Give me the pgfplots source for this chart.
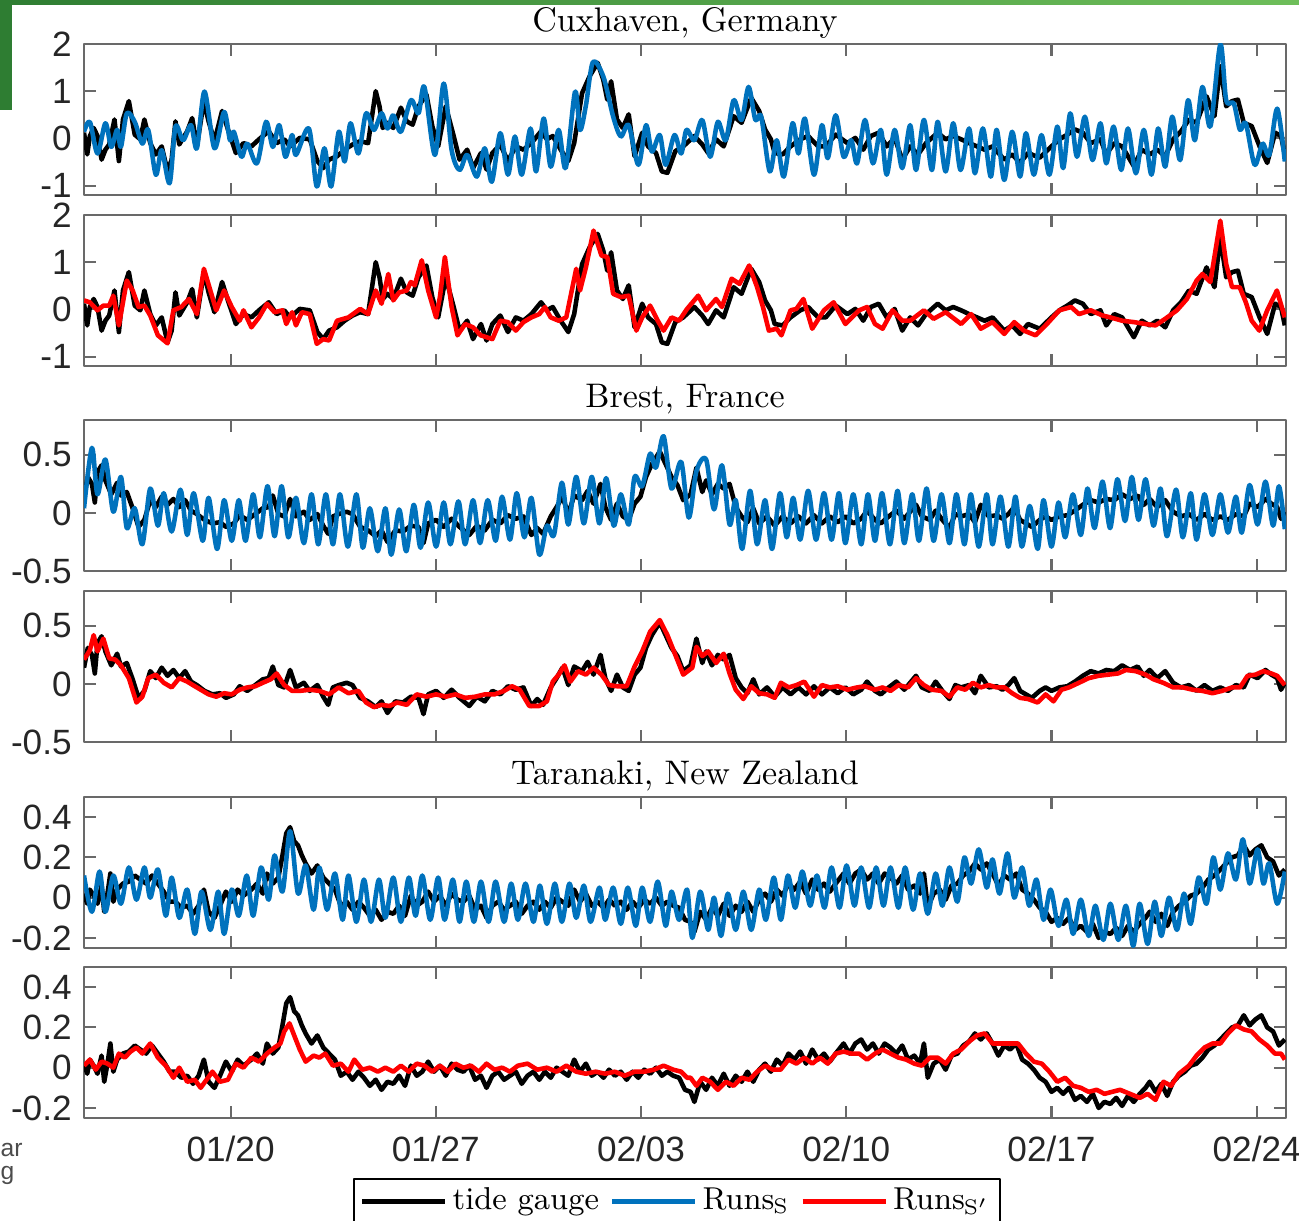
\documentclass[border=0pt]{standalone}
\usepackage{fontspec}
\usepackage{pgfplots}
\usepackage{pgfplotstable}
\pgfplotsset{compat=1.18}
\newfontfamily\ticksf{Liberation Sans}
\newcommand{\titlefont}{\fontsize{9.7}{11}\selectfont}
\newcommand{\legfont}{\fontsize{9}{10}\selectfont}
\definecolor{mblue}{RGB}{0,114,189}
\definecolor{mred}{RGB}{255,0,0}
\definecolor{axgray}{RGB}{105,105,105}
\definecolor{dgreen}{RGB}{46,125,50}
\definecolor{lgreen}{RGB}{110,190,90}

% ---------------- Cuxhaven ----------------
\pgfplotstableread{
x y
0.00 0.12
0.11 -0.34
0.20 0.05
0.33 0.22
0.46 0.05
0.60 -0.45
0.73 -0.24
0.86 -0.13
1.04 0.40
1.19 -0.48
1.33 0.40
1.53 0.79
1.73 0.08
1.92 -0.02
2.06 0.40
2.26 -0.10
2.45 -0.34
2.65 -0.17
2.85 -0.70
2.99 -0.45
3.12 0.36
3.25 -0.13
3.52 0.15
3.69 0.43
3.85 -0.17
4.09 0.79
4.25 0.36
4.45 -0.06
4.71 0.58
4.91 0.19
5.18 -0.31
5.44 -0.10
5.71 -0.17
5.97 -0.02
6.30 0.15
6.57 -0.10
6.83 -0.02
7.03 -0.17
7.36 0.01
7.70 -0.02
7.96 -0.48
8.16 -0.63
8.36 -0.45
8.63 -0.38
8.89 -0.24
9.16 -0.13
9.42 -0.06
9.69 -0.10
9.95 1.00
10.08 0.68
10.19 0.22
10.35 0.33
10.55 0.22
10.81 0.65
11.01 0.36
11.21 0.29
11.41 0.68
11.68 0.93
11.88 0.26
12.08 -0.17
12.34 0.68
12.61 0.05
12.81 -0.45
13.07 -0.24
13.27 -0.63
13.54 -0.31
13.73 -0.66
13.93 -0.31
14.20 -0.13
14.46 -0.48
14.73 -0.17
14.99 -0.24
15.26 -0.10
15.59 0.15
15.79 -0.02
15.99 0.05
16.26 -0.24
16.52 -0.48
16.72 -0.10
16.99 0.96
17.25 1.32
17.52 1.60
17.71 1.25
17.85 0.82
17.98 1.21
18.18 0.40
18.38 0.22
18.58 0.51
18.78 -0.38
19.04 0.12
19.24 -0.17
19.51 -0.31
19.71 -0.70
19.90 -0.73
20.17 -0.27
20.44 -0.17
20.82 0.05
21.09 -0.13
21.29 -0.31
21.56 -0.02
21.82 -0.17
22.16 0.47
22.43 0.33
22.76 0.86
23.03 0.58
23.23 0.19
23.43 -0.02
23.56 -0.31
23.83 -0.34
24.10 -0.17
24.43 -0.02
24.70 0.05
25.04 -0.17
25.30 -0.17
25.64 0.08
26.04 -0.10
26.31 0.01
26.58 -0.24
26.84 0.05
27.11 0.12
27.38 -0.17
27.65 0.01
27.91 -0.45
28.18 -0.17
28.45 -0.34
28.72 -0.10
29.12 0.12
29.39 -0.02
29.65 0.05
29.92 -0.02
30.19 -0.10
30.46 -0.17
30.72 -0.24
30.99 -0.17
31.39 -0.45
31.66 -0.34
31.93 -0.52
32.20 -0.31
32.60 -0.41
33.00 -0.17
33.27 -0.02
33.54 0.08
33.80 0.19
34.07 0.12
34.34 -0.10
34.67 -0.02
34.87 -0.34
35.14 -0.10
35.41 -0.17
35.81 -0.59
36.08 -0.24
36.35 -0.34
36.61 -0.24
36.88 -0.38
37.15 -0.02
37.42 0.15
37.69 0.40
37.95 0.33
38.29 0.89
38.56 0.47
38.76 1.53
38.96 0.68
39.16 0.79
39.36 0.82
39.56 0.33
39.83 0.26
40.10 -0.17
40.36 -0.52
40.63 0.12
40.83 0.05
40.96 -0.34
}\cuxK

\pgfplotstableread{
x y
0.00 0.14
0.20 0.35
0.46 -0.32
0.73 0.32
0.93 -0.18
1.13 0.18
1.26 -0.18
1.46 0.53
1.73 0.35
1.99 -0.11
2.19 0.18
2.45 -0.77
2.65 -0.25
2.92 -0.95
3.12 0.25
3.38 -0.04
3.65 0.28
3.85 -0.21
4.11 0.99
4.45 -0.21
4.78 0.56
4.98 -0.04
5.11 0.14
5.37 -0.39
5.57 -0.11
5.90 -0.53
6.21 0.35
6.44 -0.18
6.66 0.28
6.87 -0.39
7.10 0.07
7.23 -0.35
7.67 0.21
7.94 -1.02
8.20 -0.21
8.43 -1.02
8.69 0.14
8.89 -0.49
9.09 0.32
9.36 -0.32
9.62 0.53
9.89 0.18
10.15 0.53
10.35 0.21
10.55 0.49
10.81 0.14
11.15 0.81
11.41 0.53
11.61 1.09
11.97 -0.35
12.27 1.16
12.54 -0.25
12.81 -0.67
13.07 -0.35
13.40 -0.81
13.67 -0.21
13.91 -0.92
14.20 0.11
14.46 -0.77
14.70 0.04
14.93 -0.77
15.23 0.21
15.42 -0.70
15.68 0.42
15.92 -0.60
16.19 0.18
16.43 -0.63
16.75 0.99
16.92 0.18
17.12 0.70
17.36 1.62
17.72 1.30
18.05 0.46
18.31 0.04
18.58 0.28
18.91 -0.56
19.17 0.28
19.37 -0.28
19.64 0.07
19.84 -0.56
20.14 0.07
20.37 -0.32
20.55 0.18
20.82 -0.04
21.09 0.39
21.36 -0.39
21.62 0.35
21.89 -0.04
22.16 0.81
22.43 0.39
22.67 1.09
22.90 0.39
23.10 0.46
23.39 -0.70
23.63 -0.04
23.87 -0.81
24.17 0.32
24.37 -0.32
24.59 0.42
24.90 -0.77
25.17 0.28
25.37 -0.42
25.64 0.49
25.91 -0.39
26.17 -0.04
26.37 -0.53
26.64 0.39
26.91 -0.53
27.18 0.18
27.38 -0.77
27.65 0.18
27.91 -0.63
28.18 0.28
28.38 -0.67
28.65 0.39
28.92 -0.67
29.12 0.35
29.39 -0.70
29.65 0.32
29.90 -0.67
30.19 0.21
30.39 -0.74
30.66 0.21
30.93 -0.81
31.13 0.18
31.39 -0.88
31.66 0.14
31.93 -0.81
32.13 0.11
32.40 -0.77
32.66 0.07
32.93 -0.77
33.20 0.25
33.40 -0.63
33.64 0.53
33.87 -0.39
34.14 0.46
34.40 -0.46
34.67 0.32
34.87 -0.53
35.12 0.25
35.38 -0.67
35.61 0.21
35.88 -0.74
36.15 0.18
36.41 -0.77
36.64 0.21
36.88 -0.60
37.12 0.46
37.39 -0.46
37.66 0.81
37.89 -0.04
38.15 1.09
38.42 0.25
38.76 1.99
38.96 0.81
39.22 0.74
39.43 0.18
39.63 0.32
39.93 -0.56
40.20 -0.11
40.43 -0.35
40.70 0.63
40.96 -0.49
}\cuxB

\pgfplotstableread{
x y
0.00 0.19
0.20 0.15
0.46 -0.02
0.66 0.08
0.86 0.08
1.00 0.29
1.19 -0.34
1.46 0.61
1.66 0.40
1.86 0.05
2.06 0.08
2.26 -0.13
2.52 -0.55
2.85 -0.72
3.05 -0.02
3.32 0.05
3.58 0.22
3.85 -0.10
4.09 0.86
4.31 0.40
4.51 -0.02
4.78 0.40
5.04 0.05
5.31 -0.24
5.44 -0.02
5.71 -0.38
5.97 -0.17
6.24 0.12
6.50 -0.06
6.77 -0.02
6.90 -0.31
7.10 -0.06
7.23 -0.34
7.43 -0.06
7.70 -0.10
7.94 -0.73
8.16 -0.63
8.36 -0.66
8.63 -0.24
9.02 -0.17
9.42 0.01
9.69 -0.10
9.95 0.40
10.15 0.12
10.38 0.75
10.55 0.19
10.75 0.36
11.01 0.40
11.15 0.58
11.28 0.51
11.52 1.04
11.74 0.40
12.01 -0.17
12.14 0.26
12.31 1.11
12.54 0.05
12.74 -0.55
13.00 -0.31
13.27 -0.38
13.53 -0.55
13.93 -0.63
14.20 -0.24
14.46 -0.27
14.73 -0.45
14.99 -0.27
15.26 -0.17
15.53 -0.10
15.72 0.05
15.92 -0.17
16.19 -0.24
16.45 -0.17
16.79 0.86
16.92 0.40
17.12 0.89
17.38 1.67
17.65 1.14
17.85 1.11
18.05 0.33
18.31 0.26
18.58 0.29
18.84 -0.45
19.04 -0.17
19.31 0.08
19.57 -0.24
19.77 -0.45
20.04 -0.17
20.30 -0.24
20.57 0.01
20.95 0.29
21.22 -0.02
21.56 0.22
21.76 0.05
22.09 0.65
22.36 0.54
22.69 0.93
22.96 0.47
23.16 0.05
23.36 -0.45
23.63 -0.41
23.79 -0.55
24.10 -0.02
24.30 0.01
24.54 0.22
24.84 -0.41
25.24 -0.02
25.57 0.15
25.97 -0.31
26.44 -0.02
26.71 0.05
26.98 -0.31
27.24 -0.41
27.58 -0.02
27.91 -0.24
28.18 -0.24
28.65 -0.02
28.98 -0.20
29.39 -0.06
29.92 -0.31
30.26 -0.10
30.59 -0.41
30.99 -0.27
31.39 -0.52
31.73 -0.27
32.06 -0.45
32.46 -0.55
32.80 -0.34
33.27 -0.02
33.67 0.05
33.94 -0.10
34.34 -0.02
34.74 -0.13
35.01 -0.17
35.41 -0.24
35.81 -0.27
36.21 -0.31
36.55 -0.34
36.88 -0.20
37.28 -0.02
37.62 0.22
37.95 0.61
38.15 0.75
38.42 0.58
38.76 1.88
38.96 0.96
39.16 0.47
39.42 0.47
39.63 0.15
39.83 -0.24
40.09 -0.45
40.36 -0.02
40.69 0.40
40.96 -0.17
}\cuxR

% ---------------- Brest ----------------
\pgfplotstableread{
x y
0.00 0.14
0.13 0.31
0.27 0.25
0.37 0.09
0.46 0.35
0.60 0.41
0.73 0.28
0.93 0.16
1.13 0.26
1.26 0.15
1.46 0.18
1.66 0.04
1.86 -0.12
2.06 -0.06
2.26 0.11
2.45 0.05
2.65 0.14
2.85 0.07
3.05 0.12
3.25 0.05
3.45 0.11
3.65 0.02
3.85 -0.01
4.11 -0.06
4.38 -0.09
4.64 -0.08
4.84 -0.12
5.11 -0.09
5.31 -0.02
5.57 -0.06
5.84 -0.01
6.10 0.04
6.30 0.05
6.44 0.15
6.63 -0.01
6.83 -0.03
7.03 0.12
7.23 -0.03
7.50 0.01
7.70 -0.06
7.96 -0.01
8.16 -0.11
8.33 -0.18
8.49 -0.03
8.69 -0.01
8.96 0.01
9.16 -0.01
9.42 -0.12
9.69 -0.15
9.95 -0.20
10.15 -0.15
10.35 -0.25
10.62 -0.15
10.88 -0.16
11.15 -0.11
11.41 -0.12
11.58 -0.26
11.74 -0.09
12.01 -0.06
12.27 -0.12
12.54 -0.05
12.81 -0.12
13.14 -0.19
13.40 -0.11
13.67 -0.15
13.93 -0.06
14.20 -0.09
14.46 -0.02
14.73 -0.05
14.99 -0.03
15.26 -0.19
15.46 -0.13
15.66 -0.18
15.92 -0.03
16.12 0.05
16.32 0.14
16.52 -0.01
16.72 0.15
16.99 0.11
17.18 0.19
17.38 0.08
17.62 0.25
17.78 0.05
17.98 -0.06
18.18 0.08
18.38 -0.03
18.58 -0.06
18.78 0.08
18.98 0.14
19.17 0.31
19.37 0.42
19.64 0.53
19.84 0.42
20.04 0.31
20.24 0.24
20.44 0.11
20.69 0.16
20.89 0.39
21.09 0.18
21.22 0.28
21.42 0.16
21.62 0.25
21.82 0.21
22.02 0.25
22.23 0.05
22.43 -0.03
22.63 -0.08
22.83 0.04
23.03 -0.09
23.30 -0.03
23.56 -0.11
23.83 -0.03
24.10 -0.09
24.37 -0.03
24.63 -0.09
24.90 -0.02
25.17 -0.09
25.44 -0.03
25.71 -0.08
25.97 -0.03
26.24 -0.09
26.51 -0.05
26.71 0.02
26.98 -0.06
27.18 -0.09
27.45 -0.03
27.71 0.02
27.98 -0.05
28.18 0.01
28.38 0.07
28.58 -0.03
28.85 -0.06
29.05 0.02
29.28 -0.06
29.52 -0.13
29.72 -0.01
29.92 -0.03
30.19 -0.01
30.39 -0.08
30.59 0.07
30.86 -0.03
31.13 -0.02
31.33 -0.05
31.53 -0.01
31.73 0.05
31.93 -0.06
32.13 -0.09
32.33 -0.12
32.60 -0.06
32.80 -0.03
33.00 -0.06
33.27 -0.03
33.54 -0.02
33.80 0.02
34.07 0.07
34.34 0.11
34.61 0.09
34.87 0.12
35.14 0.11
35.41 0.16
35.68 0.12
35.94 0.15
36.15 0.07
36.35 0.12
36.61 0.05
36.88 0.11
37.15 0.01
37.42 -0.03
37.69 -0.01
37.95 -0.06
38.22 -0.01
38.49 -0.06
38.76 -0.03
39.02 -0.06
39.29 -0.01
39.56 -0.03
39.76 0.08
40.03 0.05
40.30 0.12
40.50 0.08
40.70 0.05
40.83 -0.05
40.96 0.01
}\brK

\pgfplotstableread{
x y
0.00 0.04
0.27 0.56
0.46 0.16
0.73 0.46
1.00 0.01
1.26 0.31
1.46 -0.13
1.73 0.04
1.99 -0.27
2.26 0.21
2.52 -0.11
2.72 0.17
2.99 -0.16
3.29 0.20
3.52 -0.19
3.74 0.17
4.05 -0.24
4.25 0.13
4.54 -0.31
4.78 0.11
5.04 -0.24
5.28 0.11
5.51 -0.24
5.77 0.16
6.00 -0.21
6.26 0.23
6.50 -0.20
6.74 0.23
6.97 -0.21
7.23 0.13
7.50 -0.26
7.76 0.16
7.99 -0.27
8.25 0.16
8.49 -0.27
8.73 0.16
9.00 -0.29
9.29 0.16
9.51 -0.30
9.75 0.04
10.02 -0.33
10.28 0.04
10.48 -0.36
10.75 0.03
10.99 -0.33
11.25 0.07
11.48 -0.30
11.74 0.09
12.01 -0.29
12.27 0.09
12.50 -0.27
12.77 0.10
13.00 -0.27
13.27 0.11
13.51 -0.26
13.77 0.11
14.04 -0.24
14.26 0.14
14.53 -0.23
14.76 0.17
15.02 -0.21
15.26 0.13
15.53 -0.36
15.79 -0.11
16.03 -0.19
16.30 0.26
16.52 -0.10
16.79 0.31
17.05 -0.09
17.32 0.31
17.58 -0.09
17.81 0.30
18.07 -0.11
18.31 0.16
18.58 -0.10
18.78 0.31
19.04 0.23
19.31 0.51
19.51 0.39
19.77 0.66
20.04 0.21
20.37 0.44
20.63 -0.04
20.89 0.36
21.22 0.46
21.49 0.03
21.76 0.41
22.02 -0.10
22.23 0.11
22.45 -0.31
22.72 0.19
22.96 -0.27
23.23 0.11
23.47 -0.31
23.74 0.17
23.97 -0.21
24.19 0.13
24.43 -0.23
24.70 0.19
24.97 -0.23
25.24 0.17
25.50 -0.23
25.75 0.17
25.97 -0.26
26.24 0.16
26.51 -0.27
26.74 0.16
26.98 -0.24
27.22 0.17
27.49 -0.27
27.75 0.19
27.98 -0.26
28.25 0.16
28.48 -0.24
28.74 0.21
28.98 -0.24
29.25 0.16
29.52 -0.26
29.76 0.16
30.03 -0.27
30.25 0.16
30.52 -0.29
30.79 0.16
30.99 -0.27
31.26 0.14
31.53 -0.29
31.77 0.14
31.99 -0.29
32.26 0.06
32.53 -0.31
32.73 0.11
33.00 -0.29
33.24 0.09
33.47 -0.21
33.73 0.16
34.00 -0.19
34.23 0.21
34.47 -0.13
34.74 0.27
35.00 -0.13
35.25 0.29
35.51 -0.07
35.74 0.31
35.97 -0.06
36.21 0.29
36.48 -0.11
36.72 0.21
36.94 -0.20
37.25 0.20
37.48 -0.21
37.75 0.17
37.95 -0.23
38.22 0.16
38.49 -0.19
38.76 0.16
39.02 -0.17
39.29 0.14
39.49 -0.17
39.76 0.24
40.03 -0.10
40.30 0.27
40.56 -0.11
40.76 0.23
40.96 -0.14
}\brB

\pgfplotstableread{
x y
0.00 0.21
0.20 0.29
0.33 0.42
0.46 0.28
0.66 0.39
0.86 0.22
1.06 0.21
1.26 0.16
1.53 0.05
1.79 -0.16
1.99 -0.11
2.19 0.05
2.45 0.08
2.72 0.01
2.99 -0.03
3.25 0.05
3.52 0.02
3.78 -0.02
4.05 -0.06
4.25 -0.09
4.51 -0.11
4.78 -0.08
5.04 -0.09
5.31 -0.05
5.57 -0.03
5.84 -0.02
6.10 0.01
6.37 0.04
6.57 0.09
6.83 -0.01
7.10 -0.06
7.36 -0.06
7.70 -0.05
8.03 -0.06
8.36 -0.09
8.69 -0.03
9.02 -0.08
9.36 -0.06
9.62 -0.16
9.89 -0.20
10.15 -0.18
10.42 -0.19
10.68 -0.16
11.01 -0.18
11.35 -0.09
11.68 -0.11
12.01 -0.09
12.34 -0.11
12.67 -0.09
13.00 -0.12
13.34 -0.11
13.67 -0.09
14.00 -0.09
14.33 -0.06
14.60 -0.02
14.86 -0.05
15.19 -0.19
15.53 -0.19
15.79 -0.15
15.99 0.02
16.19 0.08
16.39 0.16
16.59 0.02
16.85 0.11
17.12 0.08
17.38 0.14
17.65 0.08
17.91 -0.01
18.18 -0.02
18.51 -0.02
18.78 0.15
19.04 0.28
19.31 0.45
19.64 0.55
19.90 0.42
20.17 0.25
20.44 0.08
20.75 0.14
20.89 0.32
21.09 0.24
21.29 0.28
21.56 0.18
21.82 0.26
22.02 0.09
22.23 -0.05
22.49 -0.13
22.76 -0.02
23.03 -0.08
23.30 -0.09
23.56 -0.12
23.77 0.01
24.04 -0.03
24.30 -0.01
24.57 0.02
24.90 -0.11
25.17 -0.01
25.44 -0.03
25.71 -0.02
26.04 -0.05
26.37 -0.03
26.64 -0.02
26.98 -0.05
27.24 -0.03
27.51 -0.06
27.78 -0.01
28.11 -0.03
28.38 0.05
28.65 -0.01
28.92 -0.05
29.25 -0.06
29.52 -0.11
29.79 -0.03
30.06 -0.05
30.32 0.01
30.59 -0.03
30.86 -0.01
31.13 -0.03
31.40 -0.03
31.66 -0.08
31.93 -0.12
32.20 -0.13
32.53 -0.16
32.80 -0.09
33.07 -0.15
33.34 -0.05
33.60 -0.03
33.94 0.01
34.27 0.05
34.61 0.07
34.94 0.08
35.27 0.09
35.54 0.12
35.87 0.11
36.21 0.08
36.48 0.04
36.81 0.01
37.15 -0.03
37.48 -0.03
37.82 -0.05
38.15 -0.06
38.49 -0.08
38.82 -0.06
39.16 -0.03
39.43 -0.03
39.69 0.07
39.96 0.08
40.23 0.11
40.50 0.09
40.70 0.07
40.96 -0.01
}\brR

% ---------------- Taranaki ----------------
\pgfplotstableread{
x y
0.00 0.02
0.11 -0.03
0.20 0.04
0.33 0.01
0.46 -0.03
0.60 0.06
0.69 -0.07
0.80 0.02
0.90 0.12
1.00 -0.02
1.13 0.04
1.33 0.07
1.53 0.08
1.73 0.11
1.92 0.09
2.12 0.07
2.32 0.11
2.52 0.07
2.72 0.03
2.92 -0.02
3.12 -0.02
3.32 -0.05
3.52 -0.04
3.72 -0.08
3.91 -0.04
4.09 0.04
4.25 -0.07
4.45 -0.10
4.64 -0.04
4.84 0.03
5.04 -0.02
5.24 0.04
5.44 0.01
5.71 0.04
5.90 0.07
6.10 0.02
6.24 0.12
6.44 0.07
6.63 0.10
6.77 0.21
6.90 0.32
7.03 0.35
7.17 0.28
7.30 0.26
7.43 0.21
7.56 0.17
7.76 0.12
7.96 0.16
8.16 0.10
8.36 0.07
8.56 0.04
8.76 -0.04
8.96 -0.02
9.16 -0.06
9.36 -0.02
9.55 -0.05
9.75 -0.09
9.95 -0.06
10.15 -0.11
10.35 -0.07
10.55 -0.08
10.75 -0.04
10.95 -0.09
11.15 0.01
11.35 -0.04
11.54 -0.02
11.74 0.03
11.94 -0.02
12.14 0.01
12.34 -0.04
12.54 0.02
12.74 -0.01
12.94 -0.02
13.14 0.01
13.34 -0.06
13.54 -0.04
13.73 -0.10
13.93 -0.04
14.13 -0.02
14.33 -0.06
14.53 -0.04
14.73 -0.02
14.93 -0.08
15.13 -0.04
15.33 -0.02
15.53 -0.06
15.72 -0.02
15.92 -0.05
16.12 0.00
16.32 -0.02
16.52 -0.04
16.72 0.04
16.92 -0.02
17.12 0.02
17.32 -0.04
17.52 -0.02
17.72 -0.05
17.91 -0.01
18.11 -0.04
18.31 -0.02
18.51 -0.06
18.71 -0.02
18.91 -0.05
19.11 -0.01
19.31 -0.03
19.51 0.00
19.71 -0.04
19.90 -0.02
20.10 -0.04
20.30 -0.05
20.50 -0.11
20.69 -0.12
20.82 -0.17
21.02 -0.07
21.22 -0.11
21.42 -0.05
21.62 -0.09
21.82 -0.03
22.02 -0.09
22.23 -0.04
22.43 -0.07
22.63 -0.02
22.83 -0.07
23.03 -0.01
23.23 0.02
23.43 -0.02
23.63 0.04
23.83 0.01
24.03 0.07
24.23 0.04
24.43 0.08
24.63 0.02
24.84 0.09
25.04 0.04
25.24 0.07
25.44 0.03
25.64 0.07
25.91 0.12
26.11 0.07
26.31 0.12
26.51 0.14
26.71 0.09
26.91 0.12
27.11 0.07
27.31 0.12
27.51 0.10
27.71 0.07
27.91 0.11
28.11 0.04
28.32 0.06
28.52 0.02
28.65 0.12
28.78 -0.05
28.98 0.02
29.19 0.04
29.39 -0.01
29.59 0.06
29.79 0.07
29.99 0.11
30.19 0.13
30.39 0.17
30.59 0.14
30.79 0.17
30.99 0.12
31.19 0.06
31.39 0.11
31.59 0.09
31.80 0.12
32.00 0.04
32.20 0.02
32.40 -0.01
32.60 -0.05
32.80 -0.07
33.00 -0.12
33.20 -0.10
33.40 -0.13
33.60 -0.10
33.80 -0.16
34.00 -0.14
34.21 -0.17
34.41 -0.13
34.61 -0.20
34.81 -0.17
35.01 -0.18
35.21 -0.15
35.41 -0.19
35.61 -0.14
35.81 -0.17
36.01 -0.13
36.21 -0.10
36.35 -0.07
36.55 -0.12
36.75 -0.08
36.95 -0.14
37.15 -0.07
37.35 -0.04
37.55 -0.02
37.75 0.01
37.95 0.02
38.15 0.05
38.35 0.09
38.56 0.11
38.76 0.14
38.96 0.17
39.16 0.20
39.36 0.21
39.56 0.26
39.76 0.21
39.96 0.24
40.16 0.26
40.36 0.20
40.56 0.18
40.76 0.11
40.96 0.14
}\tarK

\pgfplotstableread{
x y
0.00 0.11
0.27 -0.07
0.53 0.13
0.73 -0.07
1.00 0.11
1.26 -0.03
1.53 0.15
1.79 -0.01
2.06 0.15
2.26 0.00
2.52 0.14
2.79 -0.09
2.99 0.10
3.25 -0.10
3.52 0.04
3.78 -0.18
4.01 0.03
4.31 -0.16
4.58 0.03
4.78 -0.18
5.04 0.04
5.28 -0.09
5.55 0.11
5.77 -0.09
6.04 0.15
6.30 -0.01
6.50 0.21
6.77 0.03
7.03 0.33
7.30 0.02
7.56 0.16
7.83 -0.06
8.03 0.15
8.29 -0.06
8.56 0.12
8.82 -0.11
9.02 0.11
9.29 -0.12
9.55 0.09
9.79 -0.12
10.06 0.09
10.28 -0.10
10.55 0.10
10.81 -0.12
11.08 0.10
11.31 -0.09
11.54 0.11
11.81 -0.11
12.08 0.10
12.30 -0.11
12.58 0.09
12.81 -0.12
13.04 0.08
13.30 -0.12
13.54 0.08
13.80 -0.12
14.04 0.08
14.33 -0.12
14.57 0.07
14.80 -0.11
15.06 0.07
15.33 -0.12
15.55 0.06
15.79 -0.13
16.06 0.07
16.30 -0.12
16.56 0.07
16.79 -0.10
17.05 0.06
17.28 -0.12
17.58 0.05
17.78 -0.11
18.05 0.05
18.31 -0.13
18.55 0.05
18.82 -0.14
19.04 0.05
19.31 -0.12
19.57 0.08
19.84 -0.14
20.04 0.03
20.30 -0.11
20.57 0.04
20.75 -0.20
21.02 0.03
21.29 -0.16
21.49 0.00
21.73 -0.19
21.96 0.02
22.23 -0.16
22.49 0.03
22.76 -0.16
23.03 0.04
23.26 -0.11
23.53 0.10
23.77 -0.11
24.01 0.11
24.26 -0.05
24.50 0.13
24.77 -0.04
25.00 0.11
25.26 -0.05
25.50 0.15
25.77 -0.05
26.01 0.16
26.28 -0.04
26.51 0.15
26.78 -0.05
27.02 0.15
27.27 -0.04
27.51 0.15
27.78 -0.05
28.01 0.15
28.28 -0.06
28.52 0.12
28.78 -0.08
29.05 0.12
29.28 -0.04
29.52 0.15
29.79 -0.02
30.03 0.20
30.26 0.07
30.52 0.24
30.79 0.05
30.99 0.19
31.23 0.02
31.50 0.22
31.73 0.00
32.00 0.15
32.24 -0.04
32.49 0.09
32.73 -0.11
32.97 0.04
33.24 -0.14
33.51 -0.01
33.74 -0.18
34.00 -0.01
34.27 -0.19
34.50 -0.04
34.77 -0.21
35.01 -0.03
35.28 -0.21
35.54 -0.04
35.79 -0.24
36.01 -0.03
36.28 -0.23
36.52 -0.02
36.75 -0.19
37.01 0.00
37.28 -0.16
37.52 0.02
37.75 -0.13
38.02 0.10
38.29 -0.03
38.52 0.20
38.76 0.04
39.02 0.22
39.29 0.09
39.53 0.29
39.76 0.07
40.03 0.24
40.23 0.07
40.43 0.17
40.70 -0.03
40.96 0.13
}\tarB

\pgfplotstableread{
x y
0.00 0.01
0.20 0.04
0.40 -0.01
0.60 0.03
0.80 0.02
1.00 0.00
1.19 0.07
1.39 0.05
1.59 0.08
1.79 0.10
1.99 0.07
2.26 0.12
2.52 0.05
2.79 0.01
3.05 -0.05
3.25 0.00
3.52 -0.07
3.78 -0.06
3.98 -0.10
4.18 -0.06
4.38 -0.02
4.64 -0.07
4.91 -0.06
5.18 0.02
5.44 0.00
5.71 0.05
5.97 0.03
6.24 0.07
6.50 0.10
6.70 0.12
6.83 0.18
7.01 0.22
7.17 0.16
7.36 0.09
7.56 0.03
7.83 0.06
8.03 0.05
8.23 0.07
8.49 0.01
8.76 0.02
9.02 -0.02
9.22 0.04
9.49 -0.01
9.75 0.00
10.02 -0.02
10.28 0.00
10.55 -0.02
10.81 0.01
11.08 -0.02
11.35 0.02
11.61 0.01
11.88 -0.02
12.14 0.01
12.41 -0.02
12.67 0.02
12.94 0.00
13.20 0.01
13.47 -0.02
13.73 0.02
14.00 -0.01
14.26 0.00
14.53 -0.02
14.80 0.01
15.13 0.02
15.46 -0.01
15.79 0.00
16.12 -0.02
16.45 0.01
16.79 -0.02
17.12 -0.03
17.45 -0.02
17.78 -0.03
18.11 -0.02
18.44 -0.04
18.78 -0.02
19.11 -0.02
19.44 -0.01
19.77 0.01
20.10 -0.01
20.37 -0.02
20.57 -0.05
20.69 -0.05
20.89 -0.09
21.09 -0.05
21.36 -0.07
21.62 -0.11
21.89 -0.07
22.16 -0.09
22.43 -0.05
22.70 -0.06
22.96 -0.02
23.23 0.01
23.50 -0.01
23.76 -0.01
24.03 0.04
24.30 0.02
24.57 0.05
24.84 0.02
25.10 0.05
25.37 0.02
25.64 0.07
25.91 0.08
26.17 0.07
26.44 0.07
26.71 0.04
26.98 0.07
27.24 0.09
27.51 0.07
27.78 0.05
28.05 0.04
28.32 0.02
28.58 0.01
28.85 0.05
29.12 0.05
29.39 0.02
29.65 0.07
29.92 0.09
30.19 0.13
30.46 0.16
30.72 0.17
30.99 0.12
31.26 0.12
31.59 0.12
31.86 0.12
32.13 0.07
32.40 0.03
32.67 0.02
32.93 -0.02
33.20 -0.07
33.47 -0.05
33.74 -0.09
34.00 -0.10
34.27 -0.12
34.54 -0.11
34.81 -0.13
35.07 -0.12
35.34 -0.11
35.68 -0.13
36.01 -0.15
36.28 -0.13
36.55 -0.16
36.82 -0.07
37.08 -0.09
37.35 -0.03
37.69 0.01
37.95 0.06
38.22 0.10
38.49 0.12
38.76 0.12
39.02 0.17
39.29 0.21
39.56 0.19
39.83 0.18
40.09 0.14
40.36 0.11
40.62 0.07
40.83 0.07
40.96 0.04
}\tarR

\pgfplotsset{
  panel/.style={
    scale only axis, width=12.02cm, height=1.51cm,
    anchor=north west,
    xmin=0, xmax=41,
    xtick={5,12,19,26,33,40},
    xticklabels={},
    tick align=inside,
    major tick length=0.12cm,
    axis line style={axgray, line width=0.6pt},
    every tick/.style={axgray, line width=0.6pt},
    tick label style={font=\ticksf\fontsize{10}{11}\selectfont, text=black!85},
    /pgf/number format/assume math mode=true,
    title style={font=\titlefont, anchor=base, at={(0.5,1)}, yshift=-0.85mm, inner sep=0pt},
    line join=round,
  },
  gauge/.style={black, line width=1.3pt},
  runs/.style={mblue, line width=1.3pt, smooth},
  runsp/.style={mred, line width=1.3pt},
}

\begin{document}
\begin{tikzpicture}
\useasboundingbox (0,0) rectangle (12.99cm,12.20cm);
% slide background remnants
\shade[left color=dgreen, right color=lgreen] (0,12.15cm) rectangle (12.99cm,12.20cm);
\fill[dgreen] (0,11.10cm) rectangle (0.12cm,12.20cm);
\node[anchor=west, font=\ticksf\fontsize{7}{8}\selectfont, text=black!70, inner sep=0pt] at (0cm,0.70cm) {ar};
\node[anchor=west, font=\ticksf\fontsize{7}{8}\selectfont, text=black!70, inner sep=0pt] at (0cm,0.45cm) {g};

\begin{axis}[panel, at={(0.84cm,11.76cm)}, ymin=-1.2, ymax=2,
  ytick={-1,0,1,2}, yticklabels={-1,0,1,2}, title={Cuxhaven, Germany}]
\addplot[gauge] table {\cuxK};
\addplot[runs] table {\cuxB};
\end{axis}

\begin{axis}[panel, at={(0.84cm,10.05cm)}, ymin=-1.2, ymax=2,
  ytick={-1,0,1,2}, yticklabels={-1,0,1,2}]
\addplot[gauge] table {\cuxK};
\addplot[runsp] table {\cuxR};
\end{axis}

\begin{axis}[panel, at={(0.84cm,8.00cm)}, ymin=-0.5, ymax=0.8,
  ytick={-0.5,0,0.5}, yticklabels={-0.5,0,0.5}, title={Brest, France}]
\addplot[gauge] table {\brK};
\addplot[runs] table {\brB};
\end{axis}

\begin{axis}[panel, at={(0.84cm,6.29cm)}, ymin=-0.5, ymax=0.8,
  ytick={-0.5,0,0.5}, yticklabels={-0.5,0,0.5}]
\addplot[gauge] table {\brK};
\addplot[runsp] table {\brR};
\end{axis}

\begin{axis}[panel, at={(0.84cm,4.23cm)}, ymin=-0.25, ymax=0.5,
  ytick={-0.2,0,0.2,0.4}, yticklabels={-0.2,0,0.2,0.4}, title={Taranaki, New Zealand}]
\addplot[gauge] table {\tarK};
\addplot[runs] table {\tarB};
\end{axis}

\begin{axis}[panel, at={(0.84cm,2.53cm)}, ymin=-0.25, ymax=0.5,
  ytick={-0.2,0,0.2,0.4}, yticklabels={-0.2,0,0.2,0.4},
  xticklabels={01/20,01/27,02/03,02/10,02/17,02/24},
  xticklabel style={yshift=-0.6mm},
  legend columns=3,
  legend style={at={(0.2238,-0.397)}, anchor=north west, draw=black, line width=0.6pt,
    font=\legfont, inner xsep=0.6mm, inner ysep=0.4mm,
    nodes={inner sep=0.5mm},
    /tikz/every even column/.append style={column sep=0.6mm}},
  legend cell align=left,
  legend image code/.code={\draw[#1] (0cm,0cm) -- (0.83cm,0cm);}]
\addplot[gauge, forget plot] table {\tarK};
\addplot[runsp, forget plot] table {\tarR};
\addlegendimage{black, line width=1.3pt}
\addlegendentry{tide gauge}
\addlegendimage{mblue, line width=1.3pt}
\addlegendentry{Runs\kern-0.3pt$_{\mathrm{S}}$}
\addlegendimage{mred, line width=1.3pt}
\addlegendentry{Runs\kern-0.3pt$_{\mathrm{S'}}$}
\end{axis}
\end{tikzpicture}
\end{document}
